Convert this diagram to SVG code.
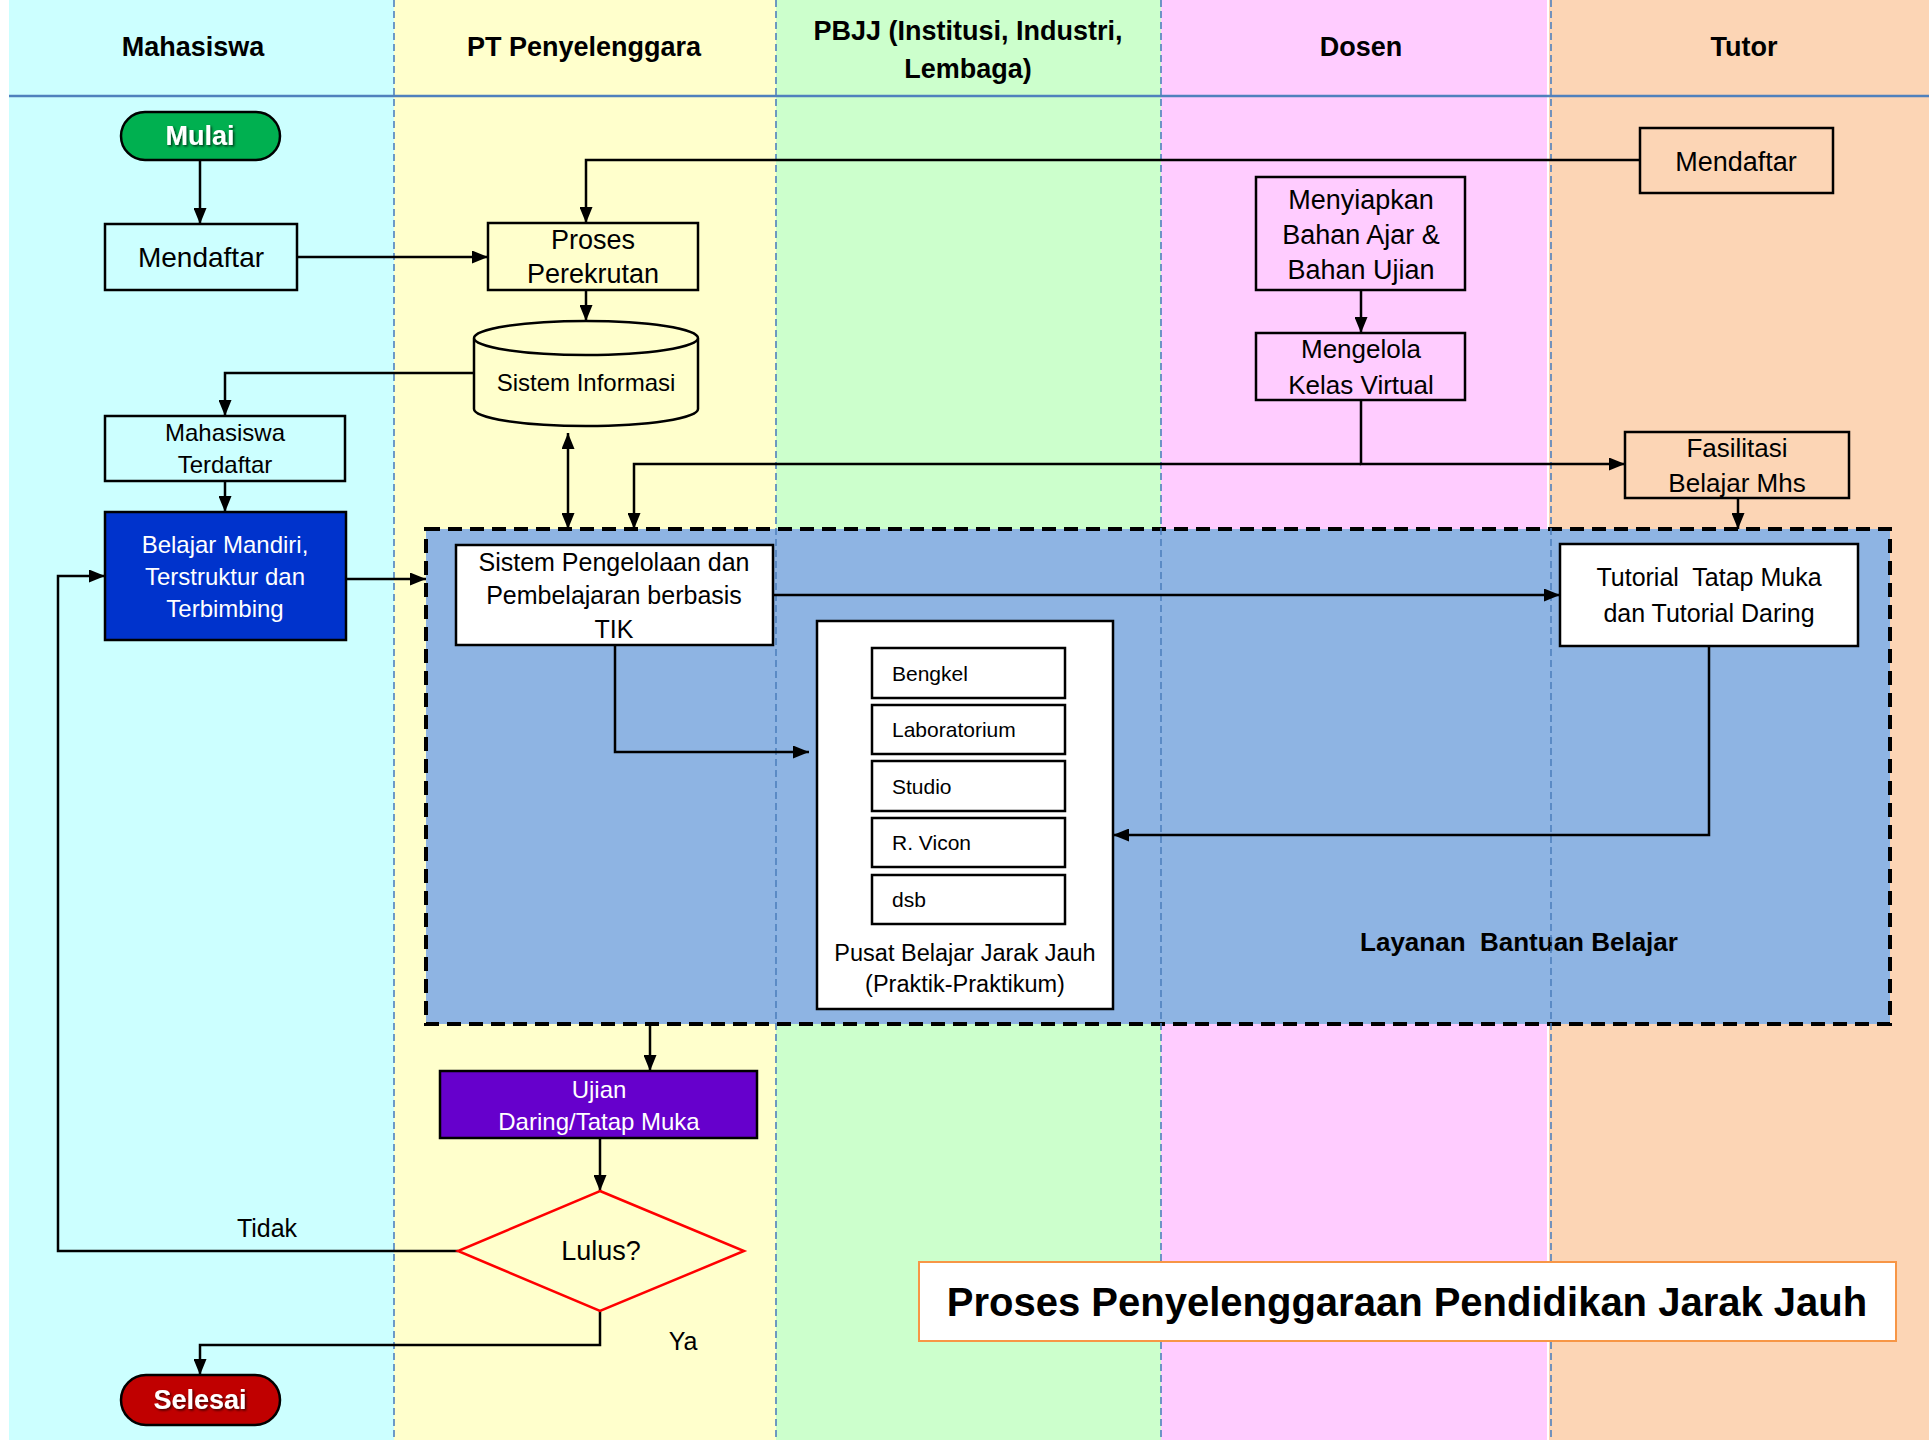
<svg xmlns="http://www.w3.org/2000/svg" width="1929" height="1440" viewBox="0 0 1929 1440">
  <defs>
    <style>
      text { font-family: "Liberation Sans", Arial, sans-serif; fill: #000; text-anchor: middle; }
      .hdr { font-size: 27px; font-weight: bold; }
      .box { stroke: #000; stroke-width: 2.5; }
      .conn { fill: none; stroke: #000; stroke-width: 2.5; }
      .arrow { marker-end: url(#arr); }
      .lane-div { stroke: #4f81bd; stroke-width: 1.6; stroke-dasharray: 7 4; }
      .w { fill: #fff; }
      .pre { white-space: pre; }
      .term { font-size: 27px; font-weight: bold; fill: #fff; filter: url(#shadow); }
      .item { font-size: 21px; text-anchor: start; }
    </style>
    <marker id="arr" viewBox="0 0 16 13" refX="16" refY="6.5" markerWidth="16" markerHeight="13" markerUnits="userSpaceOnUse" orient="auto-start-reverse">
      <path d="M0,0 L16,6.5 L0,13 z" fill="#000"/>
    </marker>
    <filter id="shadow" x="-20%" y="-20%" width="140%" height="140%">
      <feDropShadow dx="1.5" dy="1.5" stdDeviation="0.8" flood-color="#000" flood-opacity="0.7"/>
    </filter>
  </defs>

  <!-- swimlanes -->
  <g id="lanes">
    <rect x="0" y="0" width="1929" height="1440" fill="#fff"/>
    <rect x="9" y="0" width="385" height="1440" fill="#ccffff"/>
    <rect x="394" y="0" width="382" height="1440" fill="#ffffcc"/>
    <rect x="776" y="0" width="385" height="1440" fill="#ccffcc"/>
    <rect x="1161" y="0" width="386" height="1440" fill="#ffccff"/>
    <rect x="1549" y="0" width="380" height="1440" fill="#fcd5b5"/>
    <line x1="9" y1="96" x2="1929" y2="96" stroke="#4f81bd" stroke-width="2.5"/>
    <text class="hdr" x="193" y="56">Mahasiswa</text>
    <text class="hdr" x="584" y="56">PT Penyelenggara</text>
    <text class="hdr" x="968" y="40">PBJJ (Institusi, Industri,</text>
    <text class="hdr" x="968" y="78">Lembaga)</text>
    <text class="hdr" x="1361" y="56">Dosen</text>
    <text class="hdr" x="1744" y="56">Tutor</text>
  </g>

  <!-- support services container -->
  <g id="layanan">
    <rect x="426" y="529" width="1464" height="495" fill="#8eb4e3" stroke="#000" stroke-width="4" stroke-dasharray="14 8"/>
    <text class="pre" x="1519" y="951" style="font-size:26px;font-weight:bold">Layanan  Bantuan Belajar</text>
  </g>

  <!-- lane dividers drawn over the container -->
  <g id="dividers">
    <line class="lane-div" x1="394" y1="0" x2="394" y2="1440"/>
    <line class="lane-div" x1="776" y1="0" x2="776" y2="1440"/>
    <line class="lane-div" x1="1161" y1="0" x2="1161" y2="1440"/>
    <line class="lane-div" x1="1551" y1="0" x2="1551" y2="1440"/>
  </g>

  <!-- connectors -->
  <g id="connectors">
    <path class="conn arrow" d="M200,160 V224"/>
    <path class="conn arrow" d="M297,257 H488"/>
    <path class="conn arrow" d="M1640,160 H586 V223"/>
    <path class="conn arrow" d="M586,290 V321"/>
    <path class="conn arrow" d="M474,373 H225 V416"/>
    <path class="conn arrow" d="M225,481 V512"/>
    <path class="conn arrow" d="M346,579 H426"/>
    <path class="conn arrow" d="M568,433 V529" marker-start="url(#arr)"/>
    <path class="conn arrow" d="M1361,290 V333"/>
    <path class="conn arrow" d="M1361,400 V464 H1625"/>
    <path class="conn arrow" d="M1361,464 H634 V529"/>
    <path class="conn arrow" d="M1738,498 V529"/>
    <path class="conn arrow" d="M773,595 H1560"/>
    <path class="conn arrow" d="M615,645 V752 H809"/>
    <path class="conn arrow" d="M1709,646 V835 H1113"/>
    <path class="conn arrow" d="M650,1024 V1071"/>
    <path class="conn arrow" d="M600,1138 V1191"/>
    <path class="conn arrow" d="M458,1251 H58 V576 H105"/>
    <path class="conn arrow" d="M600,1311 V1345 H200 V1375"/>
    <text x="267" y="1237" style="font-size:25px">Tidak</text>
    <text x="683" y="1350" style="font-size:25px">Ya</text>
  </g>

  <!-- nodes -->
  <g id="mulai">
    <rect class="box" x="121" y="112" width="159" height="48" rx="24" fill="#00b050"/>
    <text class="term" x="200" y="145">Mulai</text>
  </g>
  <g id="mhs-mendaftar">
    <rect class="box" x="105" y="224" width="192" height="66" fill="#ccffff"/>
    <text x="201" y="267" style="font-size:28px">Mendaftar</text>
  </g>
  <g id="proses-perekrutan">
    <rect class="box" x="488" y="223" width="210" height="67" fill="#ffffcc"/>
    <text x="593" y="249" style="font-size:27px">Proses</text>
    <text x="593" y="283" style="font-size:27px">Perekrutan</text>
  </g>
  <g id="tutor-mendaftar">
    <rect class="box" x="1640" y="128" width="193" height="65" fill="#fcd5b5"/>
    <text x="1736" y="171" style="font-size:27px">Mendaftar</text>
  </g>
  <g id="sistem-informasi">
    <path class="box" fill="#ffffcc" d="M474,338 V409 A112,17 0 0 0 698,409 V338 A112,17 0 0 0 474,338 A112,17 0 0 0 698,338"/>
    <text x="586" y="391" style="font-size:24px">Sistem Informasi</text>
  </g>
  <g id="mhs-terdaftar">
    <rect class="box" x="105" y="416" width="240" height="65" fill="#ccffff"/>
    <text x="225" y="441" style="font-size:24px">Mahasiswa</text>
    <text x="225" y="473" style="font-size:24px">Terdaftar</text>
  </g>
  <g id="belajar-mandiri">
    <rect class="box" x="105" y="512" width="241" height="128" fill="#0033cc"/>
    <text class="w" x="225" y="553" style="font-size:24px">Belajar Mandiri,</text>
    <text class="w" x="225" y="585" style="font-size:24px">Terstruktur dan</text>
    <text class="w" x="225" y="617" style="font-size:24px">Terbimbing</text>
  </g>
  <g id="menyiapkan">
    <rect class="box" x="1256" y="177" width="209" height="113" fill="#ffccff"/>
    <text x="1361" y="209" style="font-size:27px">Menyiapkan</text>
    <text x="1361" y="244" style="font-size:27px">Bahan Ajar &amp;</text>
    <text x="1361" y="279" style="font-size:27px">Bahan Ujian</text>
  </g>
  <g id="mengelola">
    <rect class="box" x="1256" y="333" width="209" height="67" fill="#ffccff"/>
    <text x="1361" y="358" style="font-size:26px">Mengelola</text>
    <text x="1361" y="394" style="font-size:26px">Kelas Virtual</text>
  </g>
  <g id="fasilitasi">
    <rect class="box" x="1625" y="432" width="224" height="66" fill="#fcd5b5"/>
    <text x="1737" y="457" style="font-size:26px">Fasilitasi</text>
    <text x="1737" y="492" style="font-size:26px">Belajar Mhs</text>
  </g>
  <g id="sistem-pengelolaan">
    <rect class="box" x="456" y="545" width="317" height="100" fill="#fff"/>
    <text x="614" y="571" style="font-size:25px">Sistem Pengelolaan dan</text>
    <text x="614" y="604" style="font-size:25px">Pembelajaran berbasis</text>
    <text x="614" y="638" style="font-size:25px">TIK</text>
  </g>
  <g id="tutorial">
    <rect class="box" x="1560" y="544" width="298" height="102" fill="#fff"/>
    <text class="pre" x="1709" y="586" style="font-size:25px">Tutorial  Tatap Muka</text>
    <text x="1709" y="622" style="font-size:25px">dan Tutorial Daring</text>
  </g>
  <g id="pusat-belajar">
    <rect class="box" x="817" y="621" width="296" height="388" fill="#fff"/>
    <rect class="box" x="872" y="648" width="193" height="50" fill="#fff"/>
    <rect class="box" x="872" y="705" width="193" height="49" fill="#fff"/>
    <rect class="box" x="872" y="761" width="193" height="50" fill="#fff"/>
    <rect class="box" x="872" y="818" width="193" height="49" fill="#fff"/>
    <rect class="box" x="872" y="875" width="193" height="49" fill="#fff"/>
    <text class="item" x="892" y="681">Bengkel</text>
    <text class="item" x="892" y="737">Laboratorium</text>
    <text class="item" x="892" y="794">Studio</text>
    <text class="item" x="892" y="850">R. Vicon</text>
    <text class="item" x="892" y="907">dsb</text>
    <text x="965" y="961" style="font-size:23.5px">Pusat Belajar Jarak Jauh</text>
    <text x="965" y="992" style="font-size:23.5px">(Praktik-Praktikum)</text>
  </g>
  <g id="ujian">
    <rect class="box" x="440" y="1071" width="317" height="67" fill="#6600cc"/>
    <text class="w" x="599" y="1098" style="font-size:24px">Ujian</text>
    <text class="w" x="599" y="1130" style="font-size:24px">Daring/Tatap Muka</text>
  </g>
  <g id="lulus">
    <polygon points="600,1191 744,1251 600,1311 458,1251" fill="#ffffcc" stroke="#ff0000" stroke-width="2.5"/>
    <text x="601" y="1260" style="font-size:27px">Lulus?</text>
  </g>
  <g id="selesai">
    <rect class="box" x="121" y="1375" width="159" height="50" rx="25" fill="#c00000"/>
    <text class="term" x="200" y="1409">Selesai</text>
  </g>
  <g id="judul">
    <rect x="919" y="1262" width="977" height="79" fill="#fff" stroke="#f79646" stroke-width="2"/>
    <text x="1407" y="1316" style="font-size:40px;font-weight:bold">Proses Penyelenggaraan Pendidikan Jarak Jauh</text>
  </g>
</svg>
